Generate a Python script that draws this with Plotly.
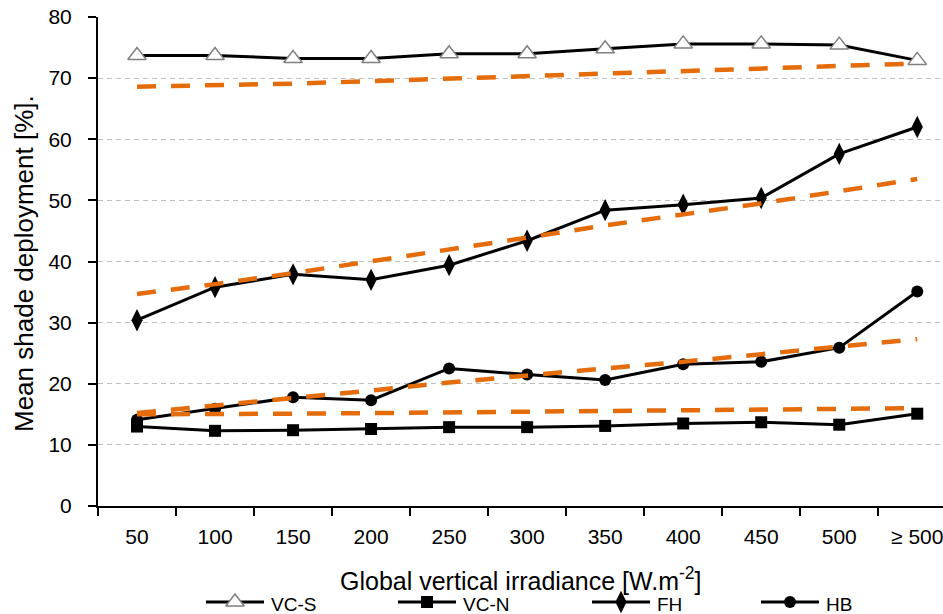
import plotly.graph_objects as go

# Irradiance classes on the x axis
categories = ["50", "100", "150", "200", "250", "300", "350", "400", "450", "500", "≥ 500"]

# Mean shade deployment [%] per facade orientation
vc_s = [73.7, 73.7, 73.2, 73.2, 74.0, 74.0, 74.8, 75.6, 75.6, 75.4, 72.9]
vc_n = [13.0, 12.3, 12.4, 12.6, 12.9, 12.9, 13.1, 13.5, 13.7, 13.3, 15.1]
fh = [30.4, 35.8, 37.9, 37.0, 39.4, 43.4, 48.4, 49.3, 50.4, 57.6, 62.0]
hb = [14.1, 15.9, 17.8, 17.3, 22.5, 21.5, 20.6, 23.2, 23.6, 25.9, 35.1]

# Fitted trend values per series
trend_vc_s = [68.6, 68.8, 69.1, 69.5, 69.9, 70.3, 70.8, 71.2, 71.5, 71.9, 72.4]
trend_vc_n = [15.0, 15.0, 15.1, 15.2, 15.3, 15.4, 15.5, 15.6, 15.7, 15.8, 16.0]
trend_fh = [34.7, 36.3, 38.1, 40.0, 41.9, 43.9, 45.9, 47.7, 49.5, 51.5, 53.5]
trend_hb = [15.2, 16.4, 17.6, 18.9, 20.2, 21.4, 22.5, 23.6, 24.8, 26.0, 27.3]

series_names = ["VC-S", "VC-N", "FH", "HB"]

W, H = 943, 614
FONT = "Liberation Sans"
ORANGE = "#E46C0A"

marker_styles = {
    "VC-S": dict(symbol="triangle-up", size=16, color="white", line=dict(color="#7F7F7F", width=1.5)),
    "VC-N": dict(symbol="square", size=12, color="black"),
    "FH": dict(symbol="diamond-tall", size=16, color="black"),
    "HB": dict(symbol="circle", size=12, color="black"),
}

series_values = {"VC-S": vc_s, "VC-N": vc_n, "FH": fh, "HB": hb}
trend_values = [trend_vc_s, trend_vc_n, trend_fh, trend_hb]

fig = go.Figure()

for name in series_names:
    fig.add_trace(go.Scatter(
        x=categories, y=series_values[name], name=name, mode="lines+markers",
        line=dict(color="black", width=3), marker=marker_styles[name],
        showlegend=False, xaxis="x", yaxis="y",
    ))

for tv in trend_values:
    fig.add_trace(go.Scatter(
        x=categories, y=tv, mode="lines",
        line=dict(color=ORANGE, width=4.5, dash="19px,15px"),
        showlegend=False, hoverinfo="skip", xaxis="x", yaxis="y",
    ))

# Legend keys drawn in a pixel-based strip below the chart
legend_keys = {"VC-S": 206, "VC-N": 398, "FH": 592, "HB": 761}
key_len = 58
key_y = 602
for name in series_names:
    x0 = legend_keys[name]
    fig.add_trace(go.Scatter(
        x=[x0, x0 + key_len], y=[key_y, key_y], mode="lines",
        line=dict(color="black", width=3), showlegend=False, hoverinfo="skip",
        xaxis="x2", yaxis="y2",
    ))
    fig.add_trace(go.Scatter(
        x=[x0 + key_len / 2], y=[key_y], mode="markers", marker=marker_styles[name],
        showlegend=False, hoverinfo="skip", xaxis="x2", yaxis="y2", cliponaxis=False,
    ))
    fig.add_annotation(
        x=x0 + key_len + 5, y=key_y + 2, xref="x2", yref="y2", text=name,
        showarrow=False, xanchor="left", yanchor="middle",
        font=dict(family=FONT, size=19, color="black"),
    )

plot_left, plot_top, plot_bottom = 98, 17, 506

fig.update_layout(
    width=W, height=H,
    margin=dict(l=0, r=0, t=0, b=0, autoexpand=False),
    paper_bgcolor="white", plot_bgcolor="rgba(0,0,0,0)",
    font=dict(family=FONT, color="black"),
    showlegend=False,
    xaxis=dict(
        domain=[plot_left / W, 1.0], anchor="y", automargin=False,
        type="category", range=[-0.5, 10.33],
        tickson="boundaries", ticks="outside", ticklen=8, tickwidth=1.5, tickcolor="black",
        showline=True, linecolor="black", linewidth=2,
        showgrid=False, zeroline=False,
        tickfont=dict(family=FONT, size=21, color="black"),
        ticklabelstandoff=11,
    ),
    yaxis=dict(
        domain=[(H - plot_bottom) / H, (H - plot_top) / H], anchor="x", automargin=False,
        range=[0, 80], dtick=10, tick0=0,
        ticks="outside", ticklen=8, tickwidth=1.5, tickcolor="black",
        showline=True, linecolor="black", linewidth=2,
        showgrid=True, gridcolor="#BFBFBF", gridwidth=1, griddash="5px,4px",
        zeroline=False,
        tickfont=dict(family=FONT, size=21, color="black"),
        ticklabelstandoff=12,
    ),
    xaxis2=dict(domain=[0, 1], anchor="y2", range=[0, W], visible=False,
                fixedrange=True, automargin=False),
    yaxis2=dict(domain=[0, 30 / H], anchor="x2", range=[H, H - 30], visible=False,
                fixedrange=True, automargin=False),
)

# Axis titles
fig.add_annotation(
    x=(plot_left + W) / 2 / W, y=1 - 579 / H, xref="paper", yref="paper",
    text="Global vertical irradiance [W.m<sup>-2</sup>]", showarrow=False,
    xanchor="center", yanchor="middle",
    font=dict(family=FONT, size=25, color="black"),
)
fig.add_annotation(
    x=24 / W, y=1 - 264 / H, xref="paper", yref="paper",
    text="Mean shade deployment [%].", showarrow=False, textangle=-90,
    xanchor="center", yanchor="middle",
    font=dict(family=FONT, size=26, color="black"),
)

fig.write_html("out.html")
